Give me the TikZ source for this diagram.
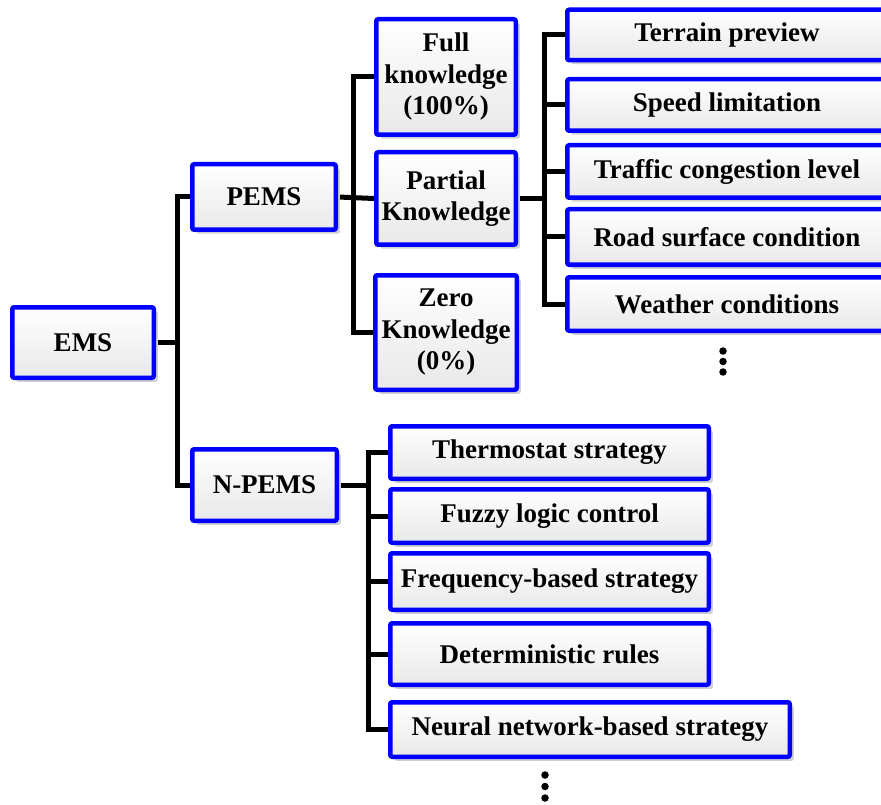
\documentclass[tikz,border=0pt]{standalone}
\usepackage{fontspec}
\setmainfont{Liberation Serif}
\usetikzlibrary{shadows,backgrounds}

\tikzset{
  box/.style={
    draw=blue, line width=4.5pt, rounded corners=2pt,
    top color=white, bottom color=black!9,
    drop shadow={shadow xshift=4pt, shadow yshift=-4pt, fill=black!18, opacity=1},
    inner sep=0pt, align=center,
    font=\fontsize{27}{31.5}\selectfont\bfseries
  },
  conn/.style={draw=black, line width=5pt, line join=miter},
  vdot/.style={fill=black, circle, inner sep=0pt, minimum size=7.5pt}
}

% box with outer size w x h centred at (x,y)
\newcommand{\boxat}[6]{%
  \node[box, minimum width=#4pt-4.5pt, minimum height=#5pt-4.5pt] (#1) at (#2,#3) {#6};}

\begin{document}
\begin{tikzpicture}[x=1pt,y=-1pt]
\useasboundingbox (0,0) rectangle (881,805);
\clip (0,0) rectangle (881,805);

% root and first level
\boxat{ems}{83}{342.5}{146}{75}{EMS}
\boxat{pems}{264}{197}{148}{70}{PEMS}
\boxat{npems}{264.5}{485}{149}{76}{N-PEMS}

% knowledge levels
\boxat{full}{446}{77}{144}{120}{Full\\knowledge\\(100\%)}
\boxat{partial}{446}{198.5}{144}{97}{Partial\\Knowledge}
\boxat{zero}{446}{332.5}{146}{119}{Zero\\Knowledge\\(0\%)}

% information sources
\boxat{terrain}{727}{35}{324}{55}{Terrain preview}
\boxat{speed}{727}{105}{324}{56}{Speed limitation}
\boxat{traffic}{727}{171.5}{324}{57}{Traffic congestion level}
\boxat{road}{727}{237}{324}{60}{Road surface condition}
\boxat{weather}{727}{304}{324}{58}{Weather conditions}

% non-predictive strategies
\boxat{thermo}{549.5}{452.5}{323}{57}{Thermostat strategy}
\boxat{fuzzy}{549.5}{516}{323}{58}{Fuzzy logic control}
\boxat{freq}{549.5}{581.5}{323}{61}{Frequency-based strategy}
\boxat{determ}{549.5}{654}{323}{66}{Deterministic rules}
\boxat{neural}{590}{729.5}{404}{59}{Neural network-based strategy}

% continuation marks
\node[vdot] (da1) at (723,351) {};
\node[vdot] (da2) at (723,361.5) {};
\node[vdot] (da3) at (723,372) {};
\node[vdot] (db1) at (545,775) {};
\node[vdot] (db2) at (545,786.5) {};
\node[vdot] (db3) at (545,798) {};

% bus lines
\coordinate (busA) at (177,0);
\coordinate (busB) at (353,0);
\coordinate (busC) at (544,0);
\coordinate (busD) at (368,0);

\begin{pgfonlayer}{background}
  \draw[conn] (ems.east) -- (ems.east -| busA);
  \draw[conn] (pems.west) -- (pems.west -| busA) -- (npems.west -| busA) -- (npems.west);

  \draw[conn] (pems.east) -- (partial.west);
  \draw[conn] (full.west) -- (full.west -| busB) -- (zero.west -| busB) -- (zero.west);

  \draw[conn] (partial.east) -- (partial.east -| busC);
  \draw[conn] (terrain.west) -- (terrain.west -| busC) -- (weather.west -| busC) -- (weather.west);
  \draw[conn] (speed.west) -- (speed.west -| busC);
  \draw[conn] (traffic.west) -- (traffic.west -| busC);
  \draw[conn] (road.west) -- (road.west -| busC);

  \draw[conn] (npems.east) -- (npems.east -| busD);
  \draw[conn] (thermo.west) -- (thermo.west -| busD) -- (neural.west -| busD) -- (neural.west);
  \draw[conn] (fuzzy.west) -- (fuzzy.west -| busD);
  \draw[conn] (freq.west) -- (freq.west -| busD);
  \draw[conn] (determ.west) -- (determ.west -| busD);
\end{pgfonlayer}
\end{tikzpicture}
\end{document}
